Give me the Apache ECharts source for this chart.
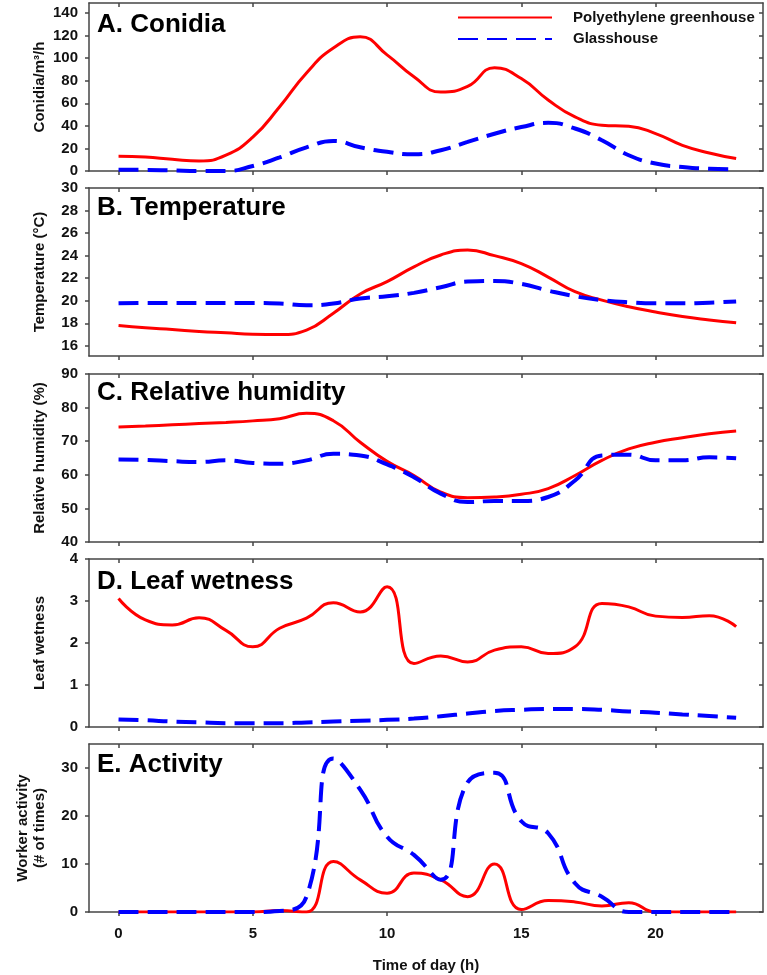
<!DOCTYPE html>
<html><head><meta charset="utf-8">
<script src="https://cdn.jsdelivr.net/npm/echarts@6/dist/echarts.min.js"></script>
<style>html,body{margin:0;padding:0;background:#fff}#c{width:767px;height:975px}</style>
</head><body><div id="c"></div><script>
const hours = [0,1,2,3,4,5,6,7,8,9,10,11,12,13,14,15,16,17,18,19,20,21,22,23];
const seriesNames = ['Polyethylene greenhouse', 'Glasshouse'];
const panelTitles = ['A. Conidia', 'B. Temperature', 'C. Relative humidity', 'D. Leaf wetness', 'E. Activity'];
const yNames = ['Conidia/m\u00b3/h', 'Temperature (\u00b0C)', 'Relative humidity (%)', 'Leaf wetness', 'Worker activity\n(# of times)'];
const xName = 'Time of day (h)';
const xTicks = [0, 5, 10, 15, 20];
const yTicksA = [0, 20, 40, 60, 80, 100, 120, 140];
const yTicksB = [16, 18, 20, 22, 24, 26, 28, 30];
const yTicksC = [40, 50, 60, 70, 80, 90];
const yTicksD = [0, 1, 2, 3, 4];
const yTicksE = [0, 10, 20, 30];

const conidiaPoly  = [13, 12.4, 10.4, 8.9, 14, 30, 57, 87, 109, 119, 103, 83.6, 70, 75, 91.6, 82, 63, 48, 40.6, 39.7, 33.2, 22.8, 16, 11];
const conidiaGlass = [1, 1, 0.5, 0, 0, 4.4, 12, 21, 26.7, 21, 17, 14.8, 18.4, 25.8, 33, 39, 42.7, 37.7, 27.3, 14, 6.6, 3.6, 2, 1.5];
const tempPoly  = [17.8, 17.6, 17.45, 17.28, 17.16, 17.04, 17.0, 17.4, 18.9, 20.6, 21.7, 23.0, 24.06, 24.5, 24.0, 23.3, 22.1, 20.8, 20.06, 19.47, 19.0, 18.6, 18.3, 18.04];
const tempGlass = [19.77, 19.8, 19.8, 19.8, 19.8, 19.8, 19.75, 19.6, 19.75, 20.2, 20.4, 20.7, 21.2, 21.7, 21.75, 21.5, 20.9, 20.4, 20.06, 19.86, 19.77, 19.77, 19.83, 19.94];
const rhPoly  = [74.2, 74.5, 74.9, 75.25, 75.6, 76.05, 76.7, 78.3, 76.1, 69.7, 64.0, 59.8, 54.85, 53.2, 53.4, 54.2, 55.9, 59.8, 64.3, 67.7, 69.7, 71.0, 72.2, 73.0];
const rhGlass = [64.55, 64.4, 64.05, 63.8, 64.3, 63.5, 63.3, 64.3, 66.25, 65.75, 63.1, 59.3, 54.4, 51.9, 52.2, 52.2, 53.4, 58.3, 65.75, 66.0, 64.3, 64.3, 65.2, 64.95];
const wetPoly  = [3.06, 2.55, 2.43, 2.6, 2.3, 1.91, 2.35, 2.59, 2.96, 2.74, 3.34, 1.51, 1.69, 1.55, 1.83, 1.91, 1.75, 1.91, 2.94, 2.86, 2.64, 2.61, 2.65, 2.39];
const wetGlass = [0.18, 0.16, 0.13, 0.11, 0.09, 0.09, 0.09, 0.11, 0.13, 0.15, 0.17, 0.2, 0.255, 0.32, 0.38, 0.41, 0.43, 0.43, 0.41, 0.37, 0.34, 0.3, 0.26, 0.22];
const actPoly  = [0, 0, 0, 0, 0, 0, 0.3, 0, 10.5, 6.7, 3.9, 8.1, 6.7, 3.2, 10.0, 0.5, 2.4, 2.1, 1.25, 1.95, 0, 0, 0, 0];
const actGlass = [0, 0, 0, 0, 0, 0, 0.2, 3.2, 32, 25.5, 15.7, 11.9, 6.7, 27, 29, 18.9, 16.4, 6.0, 3.2, 0, 0, 0, 0, 0];

const panels = [
  { poly: conidiaPoly, glass: conidiaGlass, min: 0, max: 149, ticks: yTicksA, gap: 41 },
  { poly: tempPoly, glass: tempGlass, min: 15.1, max: 30, ticks: yTicksB, gap: 41 },
  { poly: rhPoly, glass: rhGlass, min: 40, max: 90, ticks: yTicksC, gap: 41 },
  { poly: wetPoly, glass: wetGlass, min: 0, max: 4, ticks: yTicksD, gap: 41 },
  { poly: actPoly, glass: actGlass, min: 0, max: 35, ticks: yTicksE, gap: 41 }
];
const gridTops = [3, 188, 374, 559, 744];
const gridH = 168;
const titleTops = [12, 195, 380, 569, 752];

const frame = { color: '#454545', width: 1.5 };
const lblStyle = { color: '#111', fontWeight: 'bold', fontSize: 15, fontFamily: 'Liberation Sans, Arial, sans-serif' };

const grids = [], xAxes = [], yAxes = [], series = [], titles = [];
panels.forEach((p, i) => {
  grids.push({ left: 89, right: 4, top: gridTops[i], height: gridH, containLabel: false });
  const xb = {
    type: 'value', gridIndex: i, min: -1.1, max: 24, position: 'bottom',
    axisLine: { show: true, onZero: false, lineStyle: frame },
    axisTick: { show: true, inside: false, length: 4, customValues: xTicks, lineStyle: frame },
    axisLabel: { show: i === 4, customValues: xTicks, margin: 14, ...lblStyle },
    splitLine: { show: false }
  };
  if (i === 4) {
    xb.name = xName; xb.nameLocation = 'middle'; xb.nameGap = 46; xb.nameMoveOverlap = false;
    xb.nameTextStyle = { ...lblStyle };
  }
  xAxes.push(xb);
  xAxes.push({
    type: 'value', gridIndex: i, min: -1.1, max: 24, position: 'top',
    axisLine: { show: true, onZero: false, lineStyle: frame },
    axisTick: { show: true, inside: true, length: 4, customValues: xTicks, lineStyle: frame },
    axisLabel: { show: false }, splitLine: { show: false }
  });
  yAxes.push({
    type: 'value', gridIndex: i, min: p.min, max: p.max, position: 'left',
    axisLine: { show: true, onZero: false, lineStyle: frame },
    axisTick: { show: true, inside: false, length: 4, customValues: p.ticks, lineStyle: frame },
    axisLabel: { show: true, customValues: p.ticks, margin: 11, ...lblStyle },
    splitLine: { show: false },
    name: yNames[i], nameLocation: 'middle', nameGap: p.gap, nameMoveOverlap: false,
    nameTextStyle: { ...lblStyle, lineHeight: 17 }
  });
  yAxes.push({
    type: 'value', gridIndex: i, min: p.min, max: p.max, position: 'right',
    axisLine: { show: true, onZero: false, lineStyle: frame },
    axisTick: { show: true, inside: true, length: 4, customValues: p.ticks, lineStyle: frame },
    axisLabel: { show: false }, splitLine: { show: false }
  });
  series.push({
    name: seriesNames[0], type: 'line', xAxisIndex: 2 * i, yAxisIndex: 2 * i,
    data: hours.map((h, k) => [h, p.poly[k]]), smooth: 0.5, showSymbol: false, symbol: 'none',
    lineStyle: { color: '#ff0000', width: 3 }, itemStyle: { color: '#ff0000' }, z: 2
  });
  series.push({
    name: seriesNames[1], type: 'line', xAxisIndex: 2 * i, yAxisIndex: 2 * i,
    data: hours.map((h, k) => [h, p.glass[k]]), smooth: 0.5, showSymbol: false, symbol: 'none',
    lineStyle: { color: '#0000ff', width: 4, type: [20, 9] }, itemStyle: { color: '#0000ff' }, z: 3
  });
  titles.push({ text: panelTitles[i], left: 97, top: titleTops[i], padding: 0,
    textStyle: { fontSize: 26, fontWeight: 'bold', color: '#000', fontFamily: 'Liberation Sans, Arial, sans-serif' } });
});

const chart = echarts.init(document.getElementById('c'), null, { renderer: 'canvas' });
chart.setOption({
  animation: false,
  backgroundColor: '#fff',
  title: titles,
  grid: grids, xAxis: xAxes, yAxis: yAxes, series: series,
  legend: {
    data: seriesNames, orient: 'vertical', left: 457, top: 10, padding: 0,
    itemWidth: 94, itemHeight: 14, itemGap: 6.5,
    itemStyle: { opacity: 0 },
    textStyle: { ...lblStyle, padding: [0, 0, 0, 16] }
  }
});
</script></body></html>
